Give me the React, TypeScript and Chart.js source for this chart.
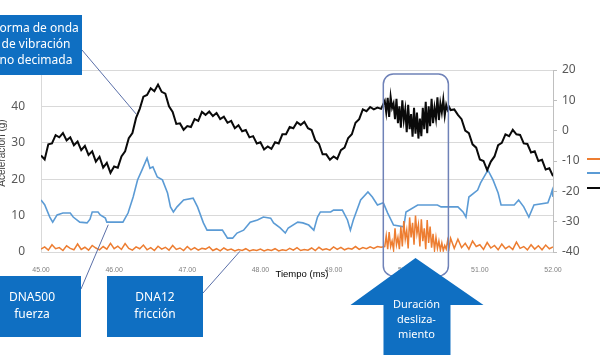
import { useEffect, useRef } from "react";
import { Chart, registerables } from "chart.js";

Chart.register(...registerables);

// ---- Data ----
const X_MIN = 45;
const X_MAX = 52;
const LEFT_MIN = 0;
const LEFT_MAX = 50;
const RIGHT_MIN = -40;
const RIGHT_MAX = 20;

// Forma de onda de vibración no decimada (right axis)
const PRE_START = 45.0; // step 0.05
const BLACK_PRE = [
  -8.2, -9.5, -4.5, -4.2, -1.5, -2.2, -0.8, -3.2, -2.2, -4.8, -3.6, -6.4, -5, -8, -6.8, -10.2, -8.6, -12.2, -10.6, -13.9,
  -11.8, -12.2, -8.5, -6.8, -2.5, -0.8, 4.2, 7.2, 11.2, 11.8, 14, 13, 15.2, 12.8, 12.2, 8, 6.2, 2.2, 2.4, 0.3,
  1.5, 1.2, 3.8, 3.2, 6.2, 5.2, 6.3, 4.8, 5.8, 3.8, 4.6, 2.6, 3.2, 0.8, 1.8, -0.2, 0.2, -2.2, -1.8, -4.2,
  -3.8, -6.2, -5.2, -6, -3.8, -4.2, -1.2, -1.2, 1.2, 0.8, 2.8, 1.9, 2.9, 0.8, 0.2, -3.2, -4.3, -7.8, -7.8, -9.6,
  -8.5, -9.3, -6.4, -5.6, -2.4, -1.2, 2.6, 3.8, 7, 6.4, 7.8, 7, 7.6, 7.2,
];
const SLIP_START = 49.7; // step 0.02
const BLACK_SLIP = [
  9.8, 6.0, 10.8, 4.5, 11.2, 7.5, 9.0, 3.8, 10.5, 2.5, 8.0, 1.0, 10.0, 3.5, 7.0, -0.5, 8.5, 0.5, 5.5, -2.0,
  7.5, -1.0, 6.0, -2.6, 4.0, -1.8, 7.5, 0.5, 9.5, -0.8, 8.0, 1.5, 10.5, 2.5, 7.5, 4.0, 11.0, 3.5, 9.0, 6.0,
  10.2, 5.0, 8.5, 6.8, 7.8, 6.8,
];
const POST_START = 50.65; // step 0.05
const BLACK_POST = [
  7, 5.2, 3.8, 0, -0.8, -4.5, -5.6, -9.5, -10, -13, -10.2, -8.5, -4.8, -4, -1.2, -1.8, 0.3, -1.2, -1.4, -4.2,
  -4.4, -7.2, -6.8, -10, -9.6, -12.8, -12.4, -15,
];

// DNA12 fricción (left axis)
const ORANGE_PRE = [
  0.8, 1.4, 0.5, 2.0, 0.9, 1.2, 0.4, 1.7, 1.0, 0.6, 2.2, 0.7, 1.3, 0.5, 1.8, 1.1, 0.6, 1.5, 0.8, 2.4, 0.9,
  1.6, 0.7, 2.3, 1.0, 0.5, 1.4, 0.9, 1.9, 0.6, 1.2, 0.4, 1.6, 0.8, 1.3, 0.5, 1.8, 0.7, 1.1, 0.4, 1.5,
  0.6, 1.2, 0.5, 1.0, 0.8, 1.4, 0.4, 0.9, 0.3, 1.1, 0.5, 0.8, 0.3, 0.7, 0.4, 0.9, 0.3, 0.6, 0.4, 0.8,
  0.3, 0.7, 0.4, 0.9, 0.3, 0.6, 0.4, 1.0, 0.5, 1.2, 0.4, 0.7, 0.5, 1.1, 0.4, 1.3, 0.6, 0.9, 0.5, 1.4,
  0.7, 1.3, 0.6, 1.0, 0.8, 1.5, 0.7, 1.2, 0.9, 1.4, 1.0, 1.5, 1.3,
];
const ORANGE_SLIP = [
  1.5, 4.5, 0.8, 5.5, 1.5, 3.0, 0.6, 6.5, 2.0, 4.0, 0.8, 7.0, 1.5, 8.5, 3.5, 6.0, 1.0, 9.5, 4.0, 8.0,
  2.0, 10.0, 5.0, 7.5, 1.5, 9.0, 3.0, 6.5, 0.8, 8.8, 2.5, 7.0, 1.2, 5.0, 0.6, 4.0, 1.0, 3.0, 0.5, 2.5,
  0.4, 1.8, 0.8, 3.2, 1.2, 3.8,
];
const ORANGE_POST = [
  1.0, 3.5, 1.2, 2.4, 0.8, 3.0, 1.5, 2.0, 0.7, 2.6, 1.1, 1.8, 0.6, 2.2, 0.9, 1.6, 0.7, 2.7, 1.0, 1.5,
  0.6, 2.0, 0.8, 1.7, 0.6, 1.9, 0.9, 1.4,
];

// DNA500 fuerza (left axis)
const BLUE_T = [
  45.0, 45.05, 45.12, 45.16, 45.22, 45.3, 45.4, 45.44, 45.53, 45.63, 45.67, 45.7, 45.78, 45.81, 45.88, 45.9,
  46.12, 46.19, 46.26, 46.32, 46.38, 46.45, 46.49, 46.53, 46.59, 46.66, 46.73, 46.77, 46.81, 46.86, 46.95,
  47.08, 47.14, 47.22, 47.27, 47.48, 47.55, 47.62, 47.68, 47.77, 47.86, 47.96, 48.04, 48.14, 48.18, 48.27,
  48.34, 48.38, 48.51, 48.58, 48.66, 48.73, 48.78, 48.82, 48.96, 49.0, 49.12, 49.19, 49.23, 49.27, 49.37,
  49.47, 49.53, 49.6, 49.68, 49.74, 49.82, 49.96, 49.99, 50.15, 50.42, 50.47, 50.7, 50.77, 50.81, 50.85,
  50.97, 51.01, 51.11, 51.18, 51.25, 51.29, 51.47, 51.53, 51.6, 51.67, 51.74, 51.93, 51.97, 51.99, 52.0,
];
const BLUE_V = [
  14.3, 13, 9.6, 8.2, 10.2, 10.7, 10.7, 9.6, 8.2, 8, 9, 11, 11, 10.2, 9.3, 8.2,
  8.2, 10.7, 15.1, 19.8, 22.5, 25.8, 23, 23.4, 20.6, 19.8, 16.2, 12.4, 11, 12.4, 14.3,
  14.8, 12.4, 8, 6, 6, 3.8, 3.8, 5.2, 6, 8.2, 8.8, 9.6, 9.3, 8, 6.6,
  5.2, 6.6, 8.2, 8, 7.4, 6, 9.6, 11, 11, 11.5, 11.5, 8.8, 6, 8.8, 14.3,
  16.5, 15.1, 12.9, 13.5, 10.7, 7.4, 6.9, 11, 12.9, 12.9, 12.4, 12.4, 11, 9.6, 15.1,
  17, 19, 22.5, 19.8, 16.2, 12.9, 12.9, 14.3, 12.4, 9.6, 12.9, 13.5, 15.7, 17, 15.1,
];

const X_TICK_STEP = 1;
const Y_TICK_STEP = 10;

const COLOR_BLACK = "#0a0a0a";
const COLOR_BLUE = "#5b9bd5";
const COLOR_ORANGE = "#ed7d31";
const BOX_BLUE = "#0f6fc2";

function seg(start: number, step: number, vals: number[]) {
  return vals.map((v, i) => ({ x: +(start + i * step).toFixed(3), y: v }));
}

const overlay = {
  id: "overlay",
  afterDraw(chart: any) {
    const ctx: CanvasRenderingContext2D = chart.ctx;
    const xs = chart.scales.x;
    const ya = chart.scales.y;
    const yb = chart.scales.y2;
    const area = chart.chartArea;
    ctx.save();

    // axis titles
    ctx.fillStyle = "#000";
    ctx.font = '9.5px "Liberation Sans", Arial, sans-serif';
    ctx.textAlign = "center";
    ctx.textBaseline = "middle";
    ctx.fillText("Tiempo (ms)", 302, 274);
    ctx.save();
    ctx.fillStyle = "#404040";
    ctx.font = '10px "Liberation Sans", Arial, sans-serif';
    ctx.translate(2, (area.top + area.bottom) / 2 - 8);
    ctx.rotate(-Math.PI / 2);
    ctx.fillText("Aceleración (g)", 0, 0);
    ctx.restore();

    // legend samples (labels clipped off the right edge)
    const leg = [
      [COLOR_ORANGE, 159],
      [COLOR_BLUE, 173],
      [COLOR_BLACK, 188],
    ] as const;
    ctx.lineWidth = 2;
    for (const [c, y] of leg) {
      ctx.strokeStyle = c;
      ctx.beginPath();
      ctx.moveTo(587, y);
      ctx.lineTo(600, y);
      ctx.stroke();
    }

    // connectors
    ctx.strokeStyle = "#5a6fa8";
    ctx.lineWidth = 1;
    const conn = (x1: number, y1: number, x2: number, y2: number) => {
      ctx.beginPath();
      ctx.moveTo(x1, y1);
      ctx.lineTo(x2, y2);
      ctx.stroke();
    };
    conn(82, 50, xs.getPixelForValue(46.3), yb.getPixelForValue(5.5));
    conn(81, 289, xs.getPixelForValue(45.92), ya.getPixelForValue(7.5));
    conn(203, 293, xs.getPixelForValue(47.72), ya.getPixelForValue(0.2));

    // rounded highlight rectangle
    const rx1 = xs.getPixelForValue(49.68);
    const rx2 = xs.getPixelForValue(50.57);
    ctx.strokeStyle = "#6f82b8";
    ctx.lineWidth = 1.5;
    ctx.beginPath();
    (ctx as any).roundRect(rx1, area.top + 4, rx2 - rx1, 202, 10);
    ctx.stroke();

    // boxes
    const box = (x: number, y: number, w: number, h: number, lines: string[], cx: number, ys: number[], font: string) => {
      ctx.fillStyle = BOX_BLUE;
      ctx.fillRect(x, y, w, h);
      ctx.fillStyle = "#fff";
      ctx.font = font;
      ctx.textAlign = "center";
      ctx.textBaseline = "middle";
      lines.forEach((t, i) => ctx.fillText(t, cx, ys[i]));
    };
    const f12 = '12px "Noto Sans", "Open Sans", sans-serif';
    box(-12, 15, 94, 60, ["Forma de onda", "de vibración", "no decimada"], 36, [29, 45, 61], f12);
    box(-16, 276, 97, 61, ["DNA500", "fuerza"], 32, [298, 315], f12);
    box(107, 276, 96, 61, ["DNA12", "fricción"], 155, [298, 315], f12);

    // arrow
    const ax = xs.getPixelForValue(50.12);
    ctx.fillStyle = BOX_BLUE;
    ctx.beginPath();
    ctx.moveTo(ax, 258);
    ctx.lineTo(ax + 68, 305);
    ctx.lineTo(ax + 35, 305);
    ctx.lineTo(ax + 35, 360);
    ctx.lineTo(ax - 32, 360);
    ctx.lineTo(ax - 32, 305);
    ctx.lineTo(ax - 65, 305);
    ctx.closePath();
    ctx.fill();
    ctx.fillStyle = "#fff";
    ctx.font = '11px "Noto Sans", "Open Sans", sans-serif';
    ctx.textAlign = "center";
    ctx.textBaseline = "middle";
    ctx.fillText("Duración", ax + 1, 305);
    ctx.fillText("desliza-", ax + 1, 320);
    ctx.fillText("miento", ax + 1, 335);

    ctx.restore();
  },
};

export default function App() {
  const ref = useRef<HTMLCanvasElement | null>(null);
  useEffect(() => {
    if (!ref.current) return;
    const black = [
      ...seg(PRE_START, 0.05, BLACK_PRE),
      ...seg(SLIP_START, 0.02, BLACK_SLIP),
      ...seg(POST_START, 0.05, BLACK_POST),
    ];
    const orange = [
      ...seg(PRE_START, 0.05, ORANGE_PRE),
      ...seg(SLIP_START, 0.02, ORANGE_SLIP),
      ...seg(POST_START, 0.05, ORANGE_POST),
    ];
    const blue = BLUE_T.map((t, i) => ({ x: t, y: BLUE_V[i] }));
    const chart = new Chart(ref.current, {
      type: "line",
      data: {
        datasets: [
          { label: "DNA12 fricción", data: orange, yAxisID: "y", borderColor: COLOR_ORANGE, borderWidth: 1.5, pointRadius: 0, order: 1 },
          { label: "DNA500 fuerza", data: blue, yAxisID: "y", borderColor: COLOR_BLUE, borderWidth: 1.6, pointRadius: 0, order: 2 },
          { label: "Forma de onda de vibración no decimada", data: black, yAxisID: "y2", borderColor: COLOR_BLACK, borderWidth: 2, pointRadius: 0, order: 0 },
        ],
      },
      options: {
        animation: false,
        responsive: false,
        maintainAspectRatio: false,
        layout: { padding: { top: 70, left: 0, right: 0, bottom: 0 } },
        plugins: { legend: { display: false }, tooltip: { enabled: false } },
        elements: { line: { tension: 0 } },
        scales: {
          x: {
            type: "linear",
            min: X_MIN,
            max: X_MAX,
            grid: { display: false },
            border: { display: false },
            ticks: {
              stepSize: X_TICK_STEP,
              padding: 6,
              color: "#7f7f7f",
              autoSkip: false,
              font: { size: 7, family: '"Liberation Sans", Arial, sans-serif' },
              callback: (v: any) => Number(v).toFixed(2),
              maxRotation: 0,
            },
            afterFit: (s: any) => {
              s.height = 103;
            },
          },
          y: {
            position: "left",
            min: LEFT_MIN,
            max: LEFT_MAX,
            grid: { color: "#d9d9d9", drawTicks: false },
            border: { display: true, color: "#d9d9d9" },
            ticks: {
              stepSize: Y_TICK_STEP,
              padding: 16,
              color: "#595959",
              font: { size: 12, family: '"Noto Sans", sans-serif' },
            },
            afterFit: (s: any) => {
              s.width = 41;
            },
          },
          y2: {
            position: "right",
            min: RIGHT_MIN,
            max: RIGHT_MAX,
            grid: { drawOnChartArea: false, drawTicks: true, tickLength: 4, color: "#bfbfbf" },
            border: { display: true, color: "#bfbfbf" },
            ticks: {
              stepSize: Y_TICK_STEP,
              padding: 5,
              color: "#595959",
              font: { size: 12, family: '"Noto Sans", sans-serif' },
            },
            afterFit: (s: any) => {
              s.width = 47;
            },
          },
        },
      },
      plugins: [overlay],
    });
    return () => chart.destroy();
  }, []);
  return (
    <div style={{ position: "absolute", left: 0, top: 0, width: 600, height: 355, background: "#fff" }}>
      <canvas ref={ref} width={600} height={355} style={{ display: "block" }} />
    </div>
  );
}
